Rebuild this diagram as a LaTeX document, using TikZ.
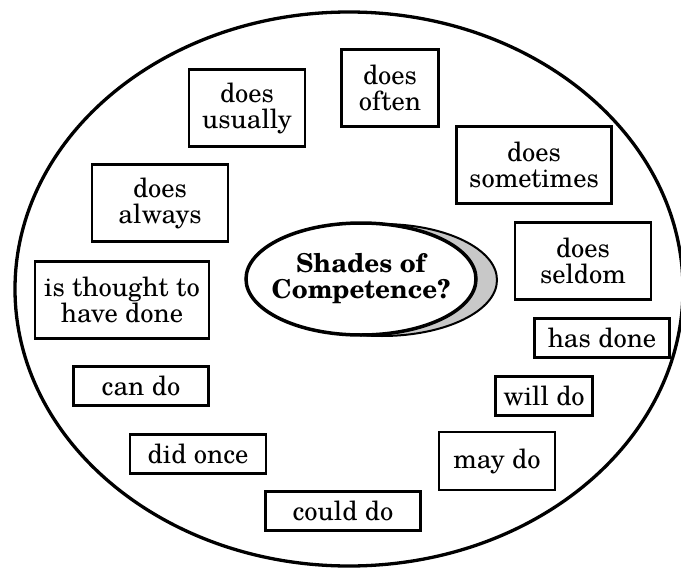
\documentclass[tikz,border=0pt]{standalone}
\usepackage{fontspec}
\setmainfont{TeX Gyre Schola}
\usetikzlibrary{shapes.geometric}
\tikzset{
  lbl/.style={draw, line width=2.2pt, align=center, inner sep=0pt,
    font=\fontsize{26.5}{26}\selectfont},
  oneline/.style={lbl, minimum height=39pt},
  twoline/.style={lbl, minimum height=77pt},
  hub/.style={ellipse, draw, minimum width=230pt, minimum height=112pt, inner sep=0pt},
}
\begin{document}
\begin{tikzpicture}[x=1pt,y=-1pt]
\useasboundingbox (0,0) rectangle (681,568);
\node[ellipse, draw, line width=3.3pt, minimum width=668pt, minimum height=554pt, inner sep=0pt] (outer) at (349,289) {};
% central shaded ellipse
\node[hub, line width=2pt, fill={rgb,255:red,200;green,200;blue,200}] (shadow) at (382,280) {};
\node[hub, line width=3.5pt, fill=white] (hub) at (361,279) {};
\node[align=center, inner sep=0pt, font=\fontsize{26}{26}\selectfont\bfseries] (hubtext) at (hub.center) {Shades of\\Competence?};
% boxes
\node[twoline, minimum width=116pt] (usually) at (247,108) {does\\usually};
\node[twoline, minimum width=97pt] (often) at (390,88) {does\\often};
\node[twoline, minimum width=155pt] (sometimes) at (534,165) {does\\sometimes};
\node[twoline, minimum width=136pt] (always) at (160,203) {does\\always};
\node[twoline, minimum width=136pt] (seldom) at (583,261) {does\\seldom};
\node[twoline, minimum width=174pt] (thought) at (122,300) {is thought to\\have done};
\node[oneline, minimum width=135pt] (hasdone) at (602,338) {has done};
\node[oneline, minimum width=135pt] (cando) at (141,386) {can do};
\node[oneline, minimum width=97pt] (willdo) at (544,396) {will do};
\node[oneline, minimum width=136pt] (didonce) at (198,454) {did once};
\node[lbl, minimum width=116pt, minimum height=58pt] (maydo) at (497,461) {may do};
\node[oneline, minimum width=155pt] (coulddo) at (343,511) {could do};
\end{tikzpicture}
\end{document}
